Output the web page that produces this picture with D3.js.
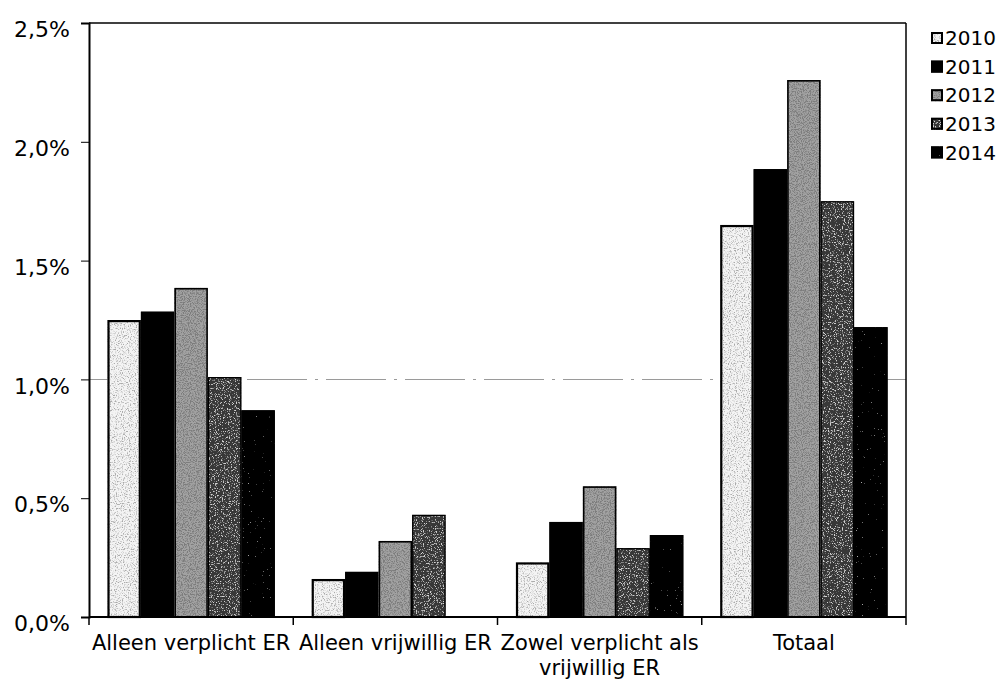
<!DOCTYPE html>
<html><head><meta charset="utf-8">
<script src="https://cdn.jsdelivr.net/npm/d3@7/dist/d3.min.js"></script>
<style>html,body{margin:0;padding:0;background:#fff;}svg{display:block;}</style>
</head><body>
<svg id="chart" width="999" height="682"></svg>
<script>
const categories = [["Alleen verplicht ER"], ["Alleen vrijwillig ER"], ["Zowel verplicht als", "vrijwillig ER"], ["Totaal"]];
const years = ["2010", "2011", "2012", "2013", "2014"];
const v2010 = [1.25, 0.16, 0.23, 1.65];
const v2011 = [1.285, 0.19, 0.40, 1.885];
const v2012 = [1.385, 0.32, 0.55, 2.26];
const v2013 = [1.01, 0.43, 0.29, 1.75];
const v2014 = [0.87, 0, 0.345, 1.22];
const yTicks = [0, 0.5, 1.0, 1.5, 2.0, 2.5];
const gridValues = [1.0];
const series = [v2010, v2011, v2012, v2013, v2014];

const svg = d3.select("#chart");
const margin = {left: 89, right: 93, top: 23, bottom: 65};
const W = 999, H = 682;
const x0 = d3.scaleBand().domain(d3.range(categories.length)).range([margin.left, W - margin.right]).padding(0);
const x1 = d3.scaleBand().domain(years).range([0, x0.bandwidth()]).paddingOuter(0.55).paddingInner(0);
const y = d3.scaleLinear().domain([0, 2.5]).range([H - margin.bottom, margin.top]);
const FONT = "DejaVu Sans, Verdana, sans-serif";

const styles = {
  "2010": {base: "#f4f4f4", dot: "#666", slope: 4, off: -1.95, stroke: 2.2},
  "2011": {base: "#000000", dot: "#000", slope: 0, off: 0, stroke: 1},
  "2012": {base: "#a2a2a2", dot: "#333", slope: 5, off: -2.2, stroke: 1.6},
  "2013": {base: "#383838", dot: "#aaa", slope: 6, off: -3.4, stroke: 1.2},
  "2014": {base: "#060606", dot: "#777", slope: 6, off: -4.5, stroke: 1}
};

const defs = svg.append("defs");
years.forEach((yr, i) => {
  const s = styles[yr];
  const f = defs.append("filter").attr("id", "sp" + yr)
    .attr("x", 0).attr("y", 0).attr("width", 1).attr("height", 1);
  f.append("feTurbulence").attr("type", "fractalNoise").attr("baseFrequency", 0.85)
    .attr("numOctaves", 2).attr("seed", 3 + i).attr("result", "noise");
  const c = d3.color(s.dot);
  f.append("feColorMatrix").attr("in", "noise").attr("type", "matrix")
    .attr("values", `0 0 0 0 ${c.r/255} 0 0 0 0 ${c.g/255} 0 0 0 0 ${c.b/255} ${s.slope} 0 0 0 ${s.off}`)
    .attr("result", "dots");
  f.append("feComposite").attr("in", "dots").attr("in2", "SourceGraphic").attr("operator", "in").attr("result", "cd");
  const m = f.append("feMerge");
  m.append("feMergeNode").attr("in", "SourceGraphic");
  m.append("feMergeNode").attr("in", "cd");
});

// grid line
svg.append("g").selectAll("line").data(gridValues).join("line")
  .attr("x1", margin.left).attr("x2", W - margin.right)
  .attr("y1", d => Math.round(y(d)) + 0.5).attr("y2", d => Math.round(y(d)) + 0.5)
  .attr("stroke", "#9a9a9a").attr("stroke-width", 1).attr("stroke-dasharray", "60,8,3,8");

// bars
const gBars = svg.append("g");
categories.forEach((cat, ci) => {
  years.forEach((yr, si) => {
    const v = series[si][ci];
    if (!v) return;
    const s = styles[yr];
    const bx = x0(ci) + x1(yr), bw = x1.bandwidth();
    gBars.append("rect").attr("x", bx).attr("y", y(v)).attr("width", bw).attr("height", y(0) - y(v))
      .attr("fill", s.base).attr("filter", s.slope ? `url(#sp${yr})` : null);
    gBars.append("rect").attr("x", bx + s.stroke/2).attr("y", y(v) + s.stroke/2)
      .attr("width", bw - s.stroke).attr("height", y(0) - y(v) - s.stroke/2)
      .attr("fill", "none").attr("stroke", "#000").attr("stroke-width", s.stroke);
  });
});

// frame: top and right
svg.append("line").attr("x1", margin.left).attr("x2", W - margin.right).attr("y1", y(2.5)).attr("y2", y(2.5))
  .attr("stroke", "#000").attr("stroke-width", 1.5);
svg.append("line").attr("x1", W - margin.right).attr("x2", W - margin.right).attr("y1", y(2.5)).attr("y2", y(0))
  .attr("stroke", "#000").attr("stroke-width", 1.5);

// y axis
const fmt = d => d.toFixed(1).replace(".", ",") + "%";
const yAxis = d3.axisLeft(y).tickValues(yTicks).tickFormat(fmt).tickSize(8).tickPadding(11);
const gy = svg.append("g").attr("transform", `translate(${margin.left},0)`).call(yAxis);
gy.select(".domain").attr("stroke-width", 2);
gy.selectAll("text").attr("font-family", FONT).attr("font-size", 22).attr("fill", "#000")
  .attr("dy", "0.62em");

// x axis
const boundaries = d3.range(categories.length + 1).map(i => i < categories.length ? x0(i) : x0(categories.length - 1) + x0.bandwidth());
const gx = svg.append("g");
gx.append("line").attr("x1", margin.left).attr("x2", W - margin.right).attr("y1", y(0)).attr("y2", y(0))
  .attr("stroke", "#000").attr("stroke-width", 2);
gx.selectAll("line.tk").data(boundaries).join("line").attr("class", "tk")
  .attr("x1", d => d).attr("x2", d => d).attr("y1", y(0)).attr("y2", y(0) + 8)
  .attr("stroke", "#000").attr("stroke-width", 1.5);
categories.forEach((lines, ci) => {
  const cx = x0(ci) + x0.bandwidth() / 2;
  const t = gx.append("text").attr("x", cx).attr("y", y(0) + 33)
    .attr("text-anchor", "middle").attr("font-family", FONT).attr("font-size", 21);
  lines.forEach((ln, li) => t.append("tspan").attr("x", cx).attr("dy", li ? 25 : 0).text(ln));
});

// legend
const lg = svg.append("g").attr("transform", "translate(931,38)");
years.forEach((yr, i) => {
  const s = styles[yr];
  const g = lg.append("g").attr("transform", `translate(0,${i * 28.6})`);
  g.append("rect").attr("x", 0).attr("y", -6).attr("width", 12).attr("height", 12)
    .attr("fill", s.base).attr("filter", s.slope ? `url(#sp${yr})` : null);
  g.append("rect").attr("x", 1).attr("y", -5).attr("width", 10).attr("height", 10)
    .attr("fill", "none").attr("stroke", "#000").attr("stroke-width", 2);
  g.append("text").attr("x", 14).attr("y", 0).attr("dy", "0.36em")
    .attr("font-family", FONT).attr("font-size", 20).text(yr);
});
</script>
</body></html>
